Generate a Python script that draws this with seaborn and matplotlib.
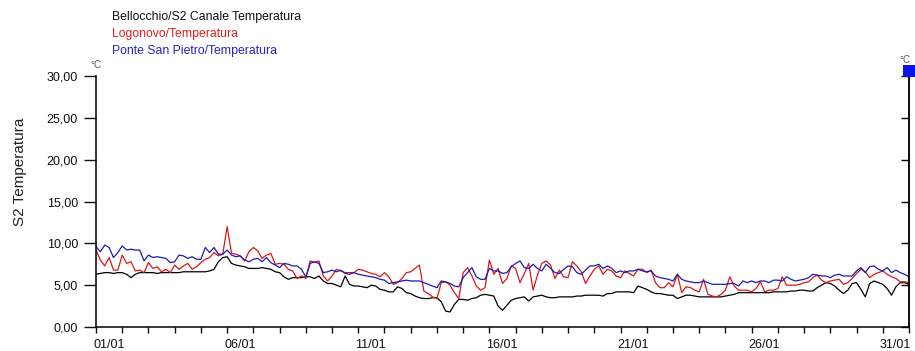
import numpy as np
import pandas as pd
import matplotlib
matplotlib.use("Agg")
import matplotlib.pyplot as plt
import matplotlib.dates as mdates
import matplotlib.transforms as mtransforms
from matplotlib.patches import Rectangle
import seaborn as sns

# Temperature readings, every 4 hours from 01/01 00:00 to 01/02 00:00 (°C)
bellocchio = [
    6.3, 6.4, 6.5, 6.5, 6.4, 6.5,
    6.5, 6.3, 5.9, 6.3, 6.5, 6.5,
    6.5, 6.5, 6.4, 6.5, 6.5, 6.5,
    6.5, 6.5, 6.6, 6.6, 6.6, 6.6,
    6.6, 6.6, 6.7, 6.9, 7.8, 8.3,
    8.4, 7.6, 7.4, 7.3, 7.2, 7.0,
    7.0, 7.0, 7.1, 7.0, 6.9, 6.6,
    6.5, 6.0, 5.7, 5.9, 5.9, 5.9,
    6.0, 6.0, 5.8, 6.1, 5.5, 5.2,
    5.2, 5.0, 4.8, 6.1, 5.1, 4.9,
    4.9, 4.8, 4.7, 5.0, 4.9, 4.5,
    4.4, 4.2, 4.2, 4.8, 4.6, 4.1,
    4.0, 3.7, 3.5, 3.4, 3.4, 3.5,
    3.5, 3.0, 1.9, 1.8, 2.7, 3.3,
    3.3, 3.2, 3.4, 3.5, 3.8, 3.9,
    3.8, 3.7, 2.5, 2.0, 2.6, 3.2,
    3.4, 3.5, 3.6, 3.1, 3.6, 3.7,
    3.8, 3.6, 3.5, 3.5, 3.6, 3.6,
    3.6, 3.6, 3.7, 3.7, 3.8, 3.8,
    3.8, 3.8, 3.7, 4.0, 4.0, 4.2,
    4.2, 4.2, 4.2, 4.1, 4.9, 4.7,
    4.5, 4.2, 4.0, 4.0, 3.9, 3.8,
    3.8, 3.4, 3.6, 3.8, 3.8, 3.7,
    3.6, 3.6, 3.6, 3.6, 3.6, 3.6,
    3.7, 3.8, 3.9, 4.1, 4.1, 4.1,
    4.1, 4.1, 4.1, 4.1, 4.1, 4.2,
    4.2, 4.2, 4.2, 4.3, 4.3, 4.4,
    4.4, 4.3, 4.3, 4.7, 5.0, 5.3,
    5.2, 4.9, 4.4, 4.0, 4.4, 5.2,
    5.3, 4.5, 3.6, 5.2, 5.5, 5.3,
    5.1, 4.6, 3.8, 4.8, 5.3, 5.3,
    5.1,
]

logonovo = [
    9.2, 8.0, 7.3, 8.3, 6.8, 6.8,
    8.6, 7.6, 7.8, 6.7, 6.8, 6.5,
    7.7, 7.0, 7.2, 6.6, 6.9, 6.5,
    7.4, 6.9, 7.3, 7.6, 6.9, 7.2,
    7.7, 8.1, 8.3, 8.9, 8.5, 8.7,
    12.0, 8.8, 8.7, 8.5, 7.9, 9.0,
    9.5, 9.1, 8.2, 8.6, 8.8, 7.5,
    7.6, 7.5, 6.9, 6.7, 5.8, 6.1,
    5.8, 7.9, 7.7, 7.9, 6.1, 5.5,
    6.1, 6.9, 6.7, 6.5, 6.5, 6.5,
    6.9, 6.8, 6.6, 6.4, 6.3, 6.0,
    6.5, 6.0, 5.1, 5.3, 5.8, 6.5,
    6.6, 7.0, 7.4, 4.3, 4.0, 3.6,
    3.4, 5.3, 5.4, 5.0, 4.1, 3.4,
    6.5, 7.1, 6.1, 4.9, 4.4, 4.7,
    8.0, 6.3, 7.0, 5.2, 5.8, 7.3,
    7.0, 5.3, 6.4, 7.6, 4.4, 6.2,
    7.6, 7.9, 7.4, 5.8, 6.8, 6.0,
    5.9, 7.8, 7.3, 6.6, 5.2, 6.1,
    6.9, 7.3, 6.3, 6.9, 6.7, 6.1,
    5.9, 6.7, 6.4, 6.1, 6.9, 6.9,
    6.5, 6.8, 5.3, 4.7, 4.7, 5.3,
    4.8, 6.3, 4.1, 4.8, 4.7, 4.4,
    4.2, 5.7, 3.9, 3.7, 3.6, 3.9,
    4.4, 6.0, 4.9, 4.4, 4.4, 4.4,
    4.2, 4.6, 5.4, 4.2, 4.4, 4.4,
    4.6, 6.0, 5.0, 5.0, 5.0, 5.1,
    5.3, 5.4, 5.9, 6.2, 5.6, 5.3,
    5.5, 5.6, 5.7, 5.1, 5.3, 5.8,
    6.4, 6.9, 6.6, 5.9, 6.3, 6.5,
    6.7, 6.3, 6.0, 5.8, 5.4, 5.4,
    5.3,
]

ponte_san_pietro = [
    9.6, 9.0, 9.8, 9.5, 8.3, 8.9,
    9.7, 9.2, 9.3, 9.2, 9.2, 7.9,
    8.6, 8.3, 8.4, 8.3, 8.2, 7.7,
    7.8, 8.6, 8.5, 8.2, 8.4, 8.1,
    8.1, 9.5, 8.9, 9.5, 8.7, 8.7,
    9.2, 8.6, 8.4, 8.5, 8.0, 7.8,
    8.1, 8.2, 7.8, 8.3, 7.7, 7.4,
    7.1, 7.6, 7.5, 7.3, 7.3, 6.9,
    6.0, 7.6, 7.8, 7.6, 6.5, 6.6,
    6.8, 6.6, 6.8, 6.4, 6.3, 6.5,
    6.3, 6.2, 6.1, 6.0, 5.9, 5.7,
    5.6, 5.2, 5.3, 5.4, 5.5, 5.6,
    5.5, 5.5, 5.5, 5.3, 5.1, 4.9,
    4.7, 5.5, 5.4, 5.2, 4.9, 4.8,
    5.9, 6.5, 7.1, 6.0, 5.7, 5.7,
    7.0, 6.7, 6.7, 6.4, 6.5, 7.2,
    7.6, 7.9, 7.1, 7.0, 7.5, 7.0,
    6.7, 7.5, 7.0, 6.5, 6.4, 6.9,
    7.3, 7.2, 6.5, 6.3, 6.8, 7.3,
    7.3, 7.5, 7.0, 7.3, 7.0, 6.5,
    6.7, 6.5, 6.7, 6.7, 6.9, 6.7,
    6.6, 6.7, 6.1, 5.9, 5.8, 5.7,
    5.5, 6.3, 5.7, 5.5, 5.4, 5.3,
    5.3, 5.5, 5.3, 5.1, 5.1, 5.1,
    5.1, 5.2, 5.2, 4.9, 5.5, 5.3,
    5.5, 5.3, 5.5, 5.5, 5.3, 5.6,
    5.6, 5.5, 6.0, 5.7, 5.5, 5.6,
    5.7, 5.9, 6.3, 6.2, 6.1, 6.1,
    5.9, 6.2, 6.3, 6.1, 6.1, 6.1,
    6.7, 7.1, 6.5, 7.2, 7.3, 6.9,
    6.7, 7.1, 6.5, 6.8, 6.5, 6.3,
    6.0,
]

series_names = [
    "Bellocchio/S2 Canale Temperatura",
    "Logonovo/Temperatura",
    "Ponte San Pietro/Temperatura",
]
series_colors = ["#000000", "#d81818", "#1c1cb0"]
legend_colors = ["#111111", "#e02020", "#2424c0"]
y_ticks = [0, 5, 10, 15, 20, 25, 30]
y_tick_labels = ["0,00", "5,00", "10,00", "15,00", "20,00", "25,00", "30,00"]
x_tick_dates = ["2014-01-01", "2014-01-06", "2014-01-11", "2014-01-16",
                "2014-01-21", "2014-01-26", "2014-01-31"]
x_tick_labels = ["01/01", "06/01", "11/01", "16/01", "21/01", "26/01", "31/01"]

times = pd.date_range("2014-01-01 00:00", periods=len(bellocchio), freq="4h")
frames = []
for name, vals in zip(series_names, [bellocchio, logonovo, ponte_san_pietro]):
    frames.append(pd.DataFrame({"time": times, "value": vals, "series": name}))
df = pd.concat(frames, ignore_index=True)

sns.set_style("white")
plt.rcParams["font.family"] = ["Liberation Sans", "DejaVu Sans"]

W, H = 915, 351
fig = plt.figure(figsize=(W / 100, H / 100), dpi=100)
ax = fig.add_axes([96 / W, (H - 327) / H, (909 - 96) / W, (327 - 76) / H])

sns.lineplot(
    data=df, x="time", y="value", hue="series", hue_order=series_names,
    palette=dict(zip(series_names, series_colors)), linewidth=0.9,
    legend=False, ax=ax,
)

ax.set_xlim(pd.Timestamp("2014-01-01"), pd.Timestamp("2014-02-01"))
ax.set_ylim(0, 30)
ax.set_xlabel("")
ax.set_ylabel("")

ax.set_yticks(y_ticks)
ax.set_yticklabels(y_tick_labels)
ax.set_xticks(pd.to_datetime(x_tick_dates))
ax.set_xticklabels(x_tick_labels)
ax.xaxis.set_minor_locator(mdates.DayLocator())

ax.tick_params(axis="y", which="both", left=True, direction="out", length=8.5,
               width=1, pad=4.5, labelsize=9, colors="#111111")
ax.tick_params(axis="x", which="both", bottom=True, direction="out", length=4.3,
               width=1, pad=4.5, labelsize=9, colors="#111111")

shift = mtransforms.ScaledTranslation(-3 / 100, 0, fig.dpi_scale_trans)
for lbl in ax.get_xticklabels():
    lbl.set_horizontalalignment("left")
    lbl.set_transform(lbl.get_transform() + shift)

for side in ["left", "bottom", "right"]:
    ax.spines[side].set_visible(True)
    ax.spines[side].set_color("#000000")
    ax.spines[side].set_linewidth(1.1)
ax.spines["top"].set_visible(False)

# second scale on the right for the Ponte San Pietro series
sec = ax.secondary_yaxis("right")
sec.set_yticks(y_ticks)
sec.set_yticklabels([""] * len(y_ticks))
sec.tick_params(direction="in", length=6, width=1, colors="#000000")
sec.spines["right"].set_linewidth(1.1)

# unit labels above both scales and the active-axis marker
fig.text(96 / W, 1 - 65 / H, "°C", fontsize=7, color="#555555",
         ha="center", va="center")
fig.text(905 / W, 1 - 60 / H, "°C", fontsize=7, color="#555555",
         ha="center", va="center")
fig.add_artist(Rectangle((903 / W, 1 - 77 / H), 12 / W, 12 / H,
                         transform=fig.transFigure, facecolor="#0a14e6",
                         edgecolor="none"))

# series names
for i, (name, col) in enumerate(zip(series_names, legend_colors)):
    fig.text(112 / W, 1 - (17 + 17 * i) / H, name, fontsize=8.8, color=col,
             ha="left", va="center")

fig.text(20 / W, 1 - 172 / H, "S2 Temperatura", fontsize=11, rotation=90,
         color="#222222", ha="center", va="center")

fig.savefig("out.png", dpi=100)
